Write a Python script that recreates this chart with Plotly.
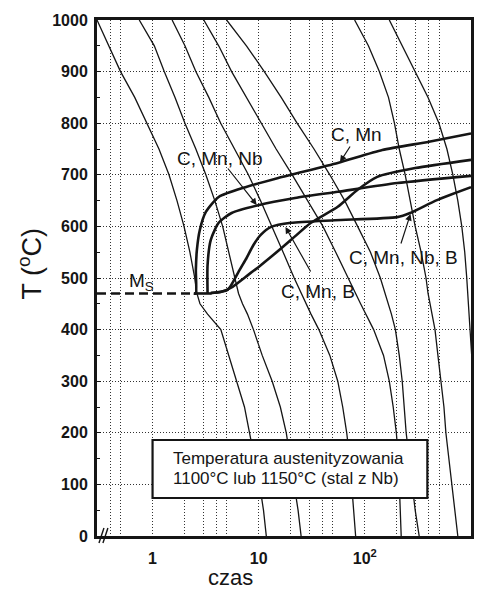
import math
import plotly.graph_objects as go

# Temperature levels (°C) at which each cooling curve is sampled
T_levels = [1000, 950, 900, 850, 800, 750, 700, 650, 600, 550, 500, 470, 450,
            430, 400, 350, 300, 250, 200, 150, 100, 50, 0]

# Cooling curves: time (s) at each temperature level
cool_1 = [0.30, 0.39, 0.50, 0.68, 0.89, 1.15, 1.43, 1.70, 1.98, 2.25, 2.50, 2.62, 2.80,
          3.30, 4.40, 5.20, 6.20, 7.35, 8.20, 9.10, 10.2, 11.1, 11.8]
cool_2 = [0.75, 1.04, 1.29, 1.63, 2.02, 2.56, 3.18, 3.86, 4.58, 5.21, 5.93, 6.46, 7.04,
          7.84, 8.93, 10.8, 13.4, 16.0, 18.2, 19.8, 21.6, 23.5, 25.1]
cool_3 = [1.53, 2.02, 2.56, 3.39, 4.39, 5.93, 8.0, 10.4, 13.4, 17.0, 21.6, 25.1, 27.9,
          31.1, 36.9, 46.8, 55.6, 61.9, 67.5, 71.9, 75.1, 78.4, 81.9]
cool_4 = [3.04, 4.20, 5.56, 7.67, 10.4, 14.6, 20.7, 29.1, 40.3, 53.2, 70.4, 81.9, 91.2,
          102, 121, 150, 170, 185, 198, 207, 211, 216, 220]
cool_5 = [4.99, 7.67, 11.3, 16.3, 23.0, 33.2, 46.8, 64.6, 85.5, 113, 140, 156, 167,
          178, 194, 211, 225, 235, 245, 262, 279, 298, 325]
cool_6 = [80.1, 108, 137, 167, 190, 211, 240, 267, 298, 339, 377, 394, 411,
          429, 458, 488, 521, 556, 580, 619, 660, 704, 751]
cool_7 = [170, 225, 298, 394, 499, 593, 675, 751, 819, 873, 912, 932, 952,
          973, 990, 1015, 1045, None, None, None, None, None, None]

# Martensite start temperature
Ms = 470
Ms_t = [0.3, 2.45]
base_t = [2.45, 3.6]

# Transformation start curves (time s, temperature °C)
cmn_t = [2.45, 2.56, 2.56, 2.62, 2.79, 3.18, 4.2, 7.5, 15.3, 55.6, 146, 402, 1000]
cmn_T = [470, 470, 515, 555, 593, 628, 657, 676, 694, 723, 748, 764, 780]

cmnnb_t = [3.3, 3.3, 3.54, 4.2, 5.56, 9.9, 22, 55.6, 202, 1000]
cmnnb_T = [471, 525, 574, 607, 626, 641, 655, 667, 684, 698]

cmnnbb_t = [3.54, 5.1, 6.46, 7.51, 8.93, 10.4, 13.1, 20.2, 52.1, 202, 267, 478, 1000]
cmnnbb_T = [471, 477, 512, 535, 564, 583, 599, 607, 612, 618, 626, 651, 676]

cmnb_t = [3.54, 4.39, 5.68, 7.51, 9.93, 13.1, 20.2, 31.1, 55.6, 85.5, 131, 298, 1000]
cmnb_T = [471, 473, 483, 502, 521, 541, 574, 607, 638, 671, 696, 713, 729]

x_ticks = [1, 10, 100, 1000]
x_ticktext = ["1", "10", "10<sup>2</sup>", "10<sup>3</sup>"]
x_grid = [0.4, 0.5, 2, 3, 4, 5, 20, 30, 40, 50, 200, 300, 400, 500]

FONT = "Arial, Liberation Sans, sans-serif"
INK = "#151515"

W, H = 481, 591
L, R, TOP, B = 97, 7, 20, 55
PW, PH = W - L - R, H - TOP - B


def paper(xp, yp):
    """Pixel position in the page -> paper coordinates."""
    return (xp - L) / PW, (H - B - yp) / PH


fig = go.Figure()

for times in [cool_1, cool_2, cool_3, cool_4, cool_5, cool_6, cool_7]:
    fig.add_trace(go.Scatter(x=times, y=T_levels, mode="lines",
                             line=dict(color=INK, width=1.3),
                             showlegend=False, hoverinfo="skip"))

fig.add_trace(go.Scatter(x=Ms_t, y=[Ms, Ms], mode="lines",
                         line=dict(color=INK, width=2.6, dash="9px,5px"),
                         showlegend=False, hoverinfo="skip"))
fig.add_trace(go.Scatter(x=base_t, y=[Ms, Ms], mode="lines",
                         line=dict(color=INK, width=2.6),
                         showlegend=False, hoverinfo="skip"))

for tt, TT in [(cmn_t, cmn_T), (cmnnb_t, cmnnb_T), (cmnnbb_t, cmnnbb_T), (cmnb_t, cmnb_T)]:
    fig.add_trace(go.Scatter(x=tt, y=TT, mode="lines",
                             line=dict(color=INK, width=2.6, shape="spline", smoothing=0.6),
                             showlegend=False, hoverinfo="skip"))

annotations = []

# curve labels
for text, xp, yp in [("C, Mn", 359, 135), ("C, Mn, Nb", 221, 158),
                     ("C, Mn, B", 320, 291), ("C, Mn, Nb, B", 406, 257)]:
    px_, py_ = paper(xp, yp)
    annotations.append(dict(x=px_, y=py_, xref="paper", yref="paper", text=text,
                            showarrow=False, xanchor="center", yanchor="middle",
                            font=dict(family=FONT, size=19, color=INK)))

# arrows from labels to curves (tip, tail offset in px)
for tip, off in [((342, 162), (11, -17)), ((258, 205), (-30, -38)),
                 ((287, 227), (26, 46)), ((413, 214), (-10, 31))]:
    px_, py_ = paper(*tip)
    annotations.append(dict(x=px_, y=py_, xref="paper", yref="paper", text="",
                            showarrow=True, arrowhead=2, arrowsize=1.1, arrowwidth=1.2,
                            arrowcolor=INK, ax=off[0], ay=off[1], standoff=0))

# Ms label
mx, my = paper(127, 282)
annotations.append(dict(x=mx, y=my, xref="paper", yref="paper", text="M<sub>S</sub>",
                        showarrow=False, xanchor="left", yanchor="middle",
                        font=dict(family=FONT, size=19, color=INK)))

# note box text
for text, yp in [("Temperatura austenityzowania", 458),
                 ("1100°C lub 1150°C (stal z Nb)", 478)]:
    tx, ty = paper(172, yp)
    annotations.append(dict(x=tx, y=ty, xref="paper", yref="paper", text=text,
                            showarrow=False, xanchor="left", yanchor="middle",
                            font=dict(family=FONT, size=17, color=INK)))

# axis titles
cx, cy = paper(232, 591)
annotations.append(dict(x=cx, y=cy, xref="paper", yref="paper", text="czas",
                        showarrow=False, xanchor="center", yanchor="bottom", yshift=-1,
                        font=dict(family=FONT, size=22, color=INK)))
tx, ty = paper(29, 264)
annotations.append(dict(x=tx, y=ty, xref="paper", yref="paper", text="T (<sup>o</sup>C)",
                        showarrow=False, xanchor="center", yanchor="middle", textangle=-90,
                        font=dict(family=FONT, size=27, color=INK)))

shapes = []
bx0, by0 = paper(153, 498)
bx1, by1 = paper(430, 440)
shapes.append(dict(type="rect", xref="paper", yref="paper", x0=bx0, y0=by0, x1=bx1, y1=by1,
                   fillcolor="white", line=dict(color=INK, width=2.2), layer="above"))

# axis break marks
for xa, xb in [(99, 104), (103, 108)]:
    p0 = paper(xa, 543)
    p1 = paper(xb, 528)
    shapes.append(dict(type="line", xref="paper", yref="paper", x0=p0[0], y0=p0[1],
                       x1=p1[0], y1=p1[1], line=dict(color=INK, width=1.4), layer="above"))

grid = dict(showgrid=True, gridcolor="#333", gridwidth=1, griddash="1px,2px")

fig.update_layout(
    width=W, height=H,
    margin=dict(l=L, r=R, t=TOP, b=B),
    paper_bgcolor="white", plot_bgcolor="white",
    showlegend=False,
    annotations=annotations,
    shapes=shapes,
    xaxis=dict(type="log", range=[math.log10(0.3), 3],
               tickmode="array", tickvals=x_ticks, ticktext=x_ticktext,
               tickfont=dict(family=FONT, size=16, color=INK, weight="bold"),
               ticks="", ticklabelstandoff=6,
               showline=True, linewidth=3, linecolor=INK, mirror=True,
               zeroline=False,
               minor=dict(tickmode="array", tickvals=x_grid, ticks="",
                          showgrid=True, gridcolor="#333", gridwidth=1, griddash="1px,2px"),
               **grid),
    yaxis=dict(range=[0, 1000], tickmode="linear", tick0=0, dtick=100,
               tickfont=dict(family=FONT, size=16, color=INK, weight="bold"),
               ticks="inside", ticklen=4, tickwidth=1, tickcolor=INK,
               ticklabelstandoff=3,
               minor=dict(dtick=50, ticks="inside", ticklen=3, tickwidth=1,
                          tickcolor=INK, showgrid=False),
               showline=True, linewidth=3, linecolor=INK, mirror=True,
               zeroline=False, **grid),
)

fig.write_html("out.html")
